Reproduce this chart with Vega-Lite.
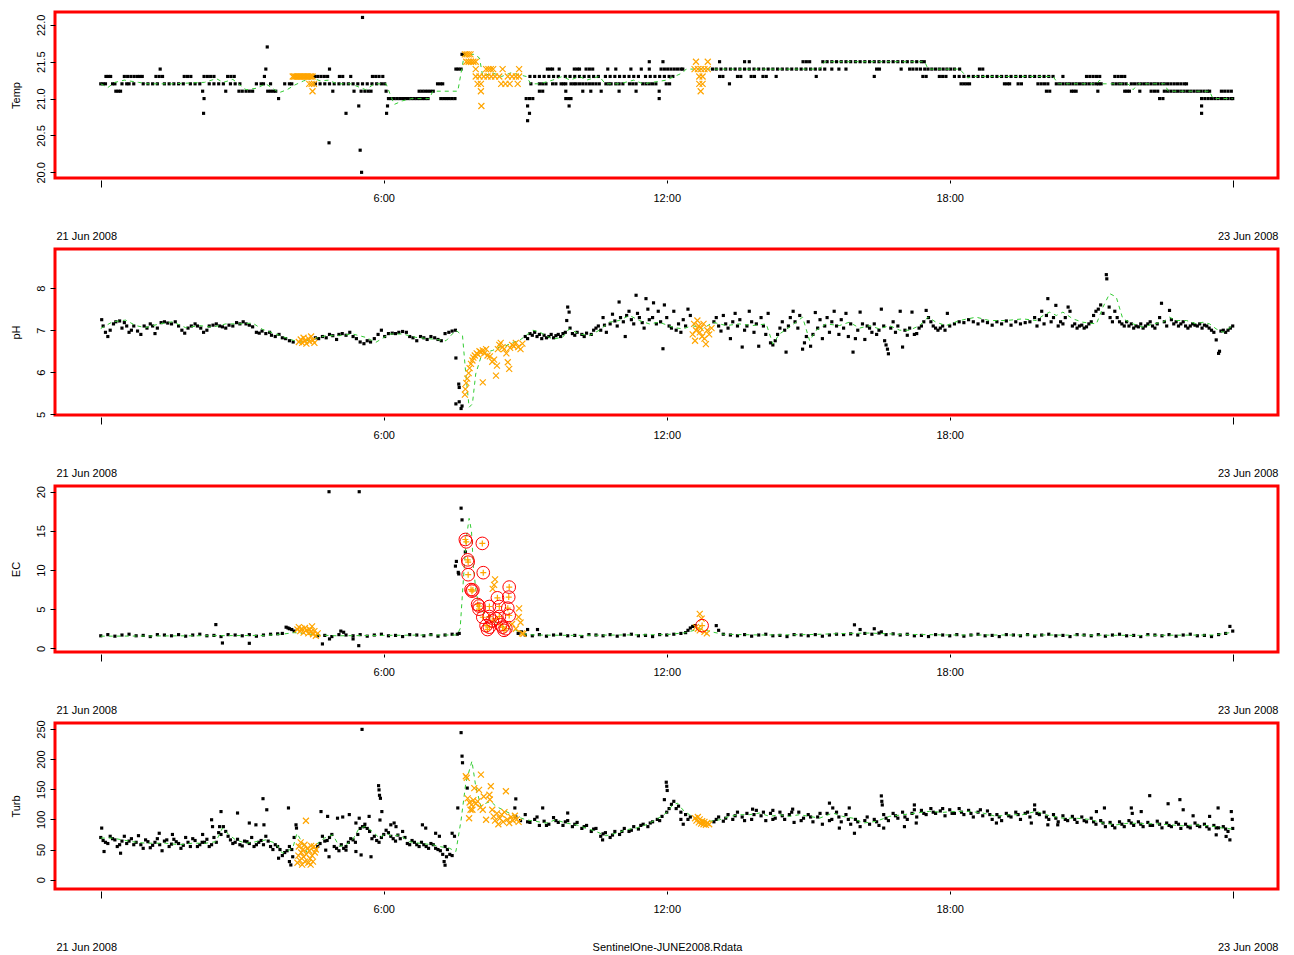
{
"$schema":"https://vega.github.io/schema/vega-lite/v6.json",
"background":"white",
"padding":{"left":8,"top":10,"right":0,"bottom":0},
"spacing":71,
"bounds":"flush",
"datasets":{
"Tp":[
{"t":0,"y":21.2},{"t":0.05,"y":21.2},{"t":0.1,"y":21.2},{"t":0.25,"y":21.2},{"t":0.3,"y":21.2},{"t":0.45,"y":21.2},{"t":0.55,"y":21.2},{"t":0.6,"y":21.2},{"t":0.7,"y":21.2},{"t":0.9,"y":21.2},{"t":1.0,"y":21.2},{"t":1.1,"y":21.2},{"t":1.2,"y":21.2},{"t":1.35,"y":21.2},{"t":1.45,"y":21.2},{"t":1.55,"y":21.2},{"t":1.65,"y":21.2},{"t":1.75,"y":21.2},{"t":1.9,"y":21.2},{"t":2.0,"y":21.2},{"t":2.1,"y":21.2},{"t":2.3,"y":21.2},{"t":2.4,"y":21.2},{"t":2.5,"y":21.2},{"t":2.6,"y":21.2},{"t":2.75,"y":21.2},{"t":2.85,"y":21.2},{"t":2.95,"y":21.2},{"t":3.3,"y":21.2},{"t":3.4,"y":21.2},{"t":3.45,"y":21.2},{"t":3.6,"y":21.2},{"t":3.9,"y":21.2},{"t":4.0,"y":21.2},{"t":4.05,"y":21.2},{"t":4.55,"y":21.2},{"t":4.65,"y":21.2},{"t":4.75,"y":21.2},{"t":4.85,"y":21.2},{"t":4.95,"y":21.2},{"t":5.05,"y":21.2},{"t":5.15,"y":21.2},{"t":5.25,"y":21.2},{"t":5.35,"y":21.2},{"t":5.45,"y":21.2},{"t":5.55,"y":21.2},{"t":5.65,"y":21.2},{"t":5.75,"y":21.2},{"t":5.85,"y":21.2},{"t":5.95,"y":21.2},{"t":6.02,"y":21.2},{"t":7.14,"y":21.2},{"t":7.2,"y":21.2},{"t":7.25,"y":21.2},
{"t":9.12,"y":21.2},{"t":9.3,"y":21.2},{"t":9.37,"y":21.2},{"t":9.44,"y":21.2},{"t":9.58,"y":21.2},{"t":9.65,"y":21.2},{"t":9.76,"y":21.2},{"t":9.81,"y":21.2},{"t":9.86,"y":21.2},{"t":9.97,"y":21.2},{"t":10.03,"y":21.2},{"t":10.08,"y":21.2},{"t":10.15,"y":21.2},{"t":10.22,"y":21.2},{"t":10.29,"y":21.2},{"t":10.36,"y":21.2},{"t":10.43,"y":21.2},{"t":10.5,"y":21.2},{"t":10.57,"y":21.2},{"t":10.71,"y":21.2},{"t":10.77,"y":21.2},{"t":10.82,"y":21.2},{"t":10.92,"y":21.2},{"t":10.99,"y":21.2},{"t":11.07,"y":21.2},{"t":11.21,"y":21.2},{"t":11.28,"y":21.2},{"t":11.35,"y":21.2},{"t":11.49,"y":21.2},{"t":11.56,"y":21.2},{"t":11.63,"y":21.2},{"t":11.7,"y":21.2},{"t":11.77,"y":21.2},{"t":11.99,"y":21.2},{"t":12.06,"y":21.2},{"t":13.33,"y":21.2},
{"t":18.24,"y":21.2},{"t":18.3,"y":21.2},{"t":18.36,"y":21.2},{"t":18.42,"y":21.2},{"t":19.16,"y":21.2},{"t":19.22,"y":21.2},{"t":19.27,"y":21.2},{"t":19.45,"y":21.2},{"t":19.52,"y":21.2},{"t":19.87,"y":21.2},{"t":19.94,"y":21.2},{"t":20.01,"y":21.2},{"t":20.08,"y":21.2},{"t":20.26,"y":21.2},{"t":20.33,"y":21.2},{"t":20.4,"y":21.2},{"t":20.47,"y":21.2},{"t":20.54,"y":21.2},{"t":20.61,"y":21.2},{"t":20.68,"y":21.2},{"t":20.75,"y":21.2},{"t":20.82,"y":21.2},{"t":20.89,"y":21.2},{"t":20.96,"y":21.2},{"t":21.04,"y":21.2},{"t":21.11,"y":21.2},{"t":21.16,"y":21.2},{"t":21.21,"y":21.2},{"t":21.46,"y":21.2},{"t":21.53,"y":21.2},{"t":21.6,"y":21.2},{"t":21.67,"y":21.2},{"t":21.74,"y":21.2},{"t":21.85,"y":21.2},{"t":21.92,"y":21.2},{"t":21.99,"y":21.2},{"t":22.06,"y":21.2},{"t":22.13,"y":21.2},{"t":22.2,"y":21.2},{"t":22.27,"y":21.2},{"t":22.34,"y":21.2},{"t":22.41,"y":21.2},{"t":22.48,"y":21.2},{"t":22.55,"y":21.2},{"t":22.62,"y":21.2},{"t":22.69,"y":21.2},{"t":22.76,"y":21.2},{"t":22.83,"y":21.2},{"t":22.9,"y":21.2},{"t":22.97,"y":21.2},{"t":23.02,"y":21.2},
{"t":0.11,"y":21.3},{"t":0.16,"y":21.3},{"t":0.21,"y":21.3},{"t":0.5,"y":21.3},{"t":0.57,"y":21.3},{"t":0.64,"y":21.3},{"t":0.71,"y":21.3},{"t":0.78,"y":21.3},{"t":0.83,"y":21.3},{"t":0.88,"y":21.3},{"t":1.17,"y":21.3},{"t":1.24,"y":21.3},{"t":1.31,"y":21.3},{"t":1.77,"y":21.3},{"t":1.84,"y":21.3},{"t":1.91,"y":21.3},{"t":2.19,"y":21.3},{"t":2.26,"y":21.3},{"t":2.33,"y":21.3},{"t":2.4,"y":21.3},{"t":2.69,"y":21.3},{"t":2.76,"y":21.3},{"t":2.83,"y":21.3},{"t":3.47,"y":21.3},{"t":4.53,"y":21.3},{"t":4.6,"y":21.3},{"t":4.67,"y":21.3},{"t":4.74,"y":21.3},{"t":4.81,"y":21.3},{"t":5.06,"y":21.3},{"t":5.13,"y":21.3},{"t":5.3,"y":21.3},{"t":5.76,"y":21.3},{"t":5.83,"y":21.3},{"t":5.9,"y":21.3},{"t":5.98,"y":21.3},
{"t":9.1,"y":21.3},{"t":9.2,"y":21.3},{"t":9.3,"y":21.3},{"t":9.4,"y":21.3},{"t":9.5,"y":21.3},{"t":9.6,"y":21.3},{"t":9.7,"y":21.3},{"t":9.85,"y":21.3},{"t":9.95,"y":21.3},{"t":10.05,"y":21.3},{"t":10.15,"y":21.3},{"t":10.25,"y":21.3},{"t":10.35,"y":21.3},{"t":10.45,"y":21.3},{"t":10.55,"y":21.3},{"t":10.7,"y":21.3},{"t":10.8,"y":21.3},{"t":10.9,"y":21.3},{"t":11.0,"y":21.3},{"t":11.1,"y":21.3},{"t":11.2,"y":21.3},{"t":11.3,"y":21.3},{"t":11.4,"y":21.3},{"t":11.55,"y":21.3},{"t":11.65,"y":21.3},{"t":11.75,"y":21.3},{"t":11.85,"y":21.3},{"t":11.95,"y":21.3},{"t":12.05,"y":21.3},{"t":12.13,"y":21.3},{"t":13.12,"y":21.3},{"t":13.19,"y":21.3},{"t":13.5,"y":21.3},{"t":13.57,"y":21.3},{"t":13.79,"y":21.3},{"t":13.86,"y":21.3},{"t":14.04,"y":21.3},{"t":14.11,"y":21.3},{"t":14.32,"y":21.3},{"t":15.17,"y":21.3},{"t":16.4,"y":21.3},{"t":17.43,"y":21.3},{"t":17.5,"y":21.3},{"t":17.78,"y":21.3},{"t":17.85,"y":21.3},{"t":17.92,"y":21.3},{"t":18.1,"y":21.3},{"t":18.2,"y":21.3},{"t":18.3,"y":21.3},{"t":18.4,"y":21.3},{"t":18.5,"y":21.3},{"t":18.6,"y":21.3},{"t":18.7,"y":21.3},{"t":18.8,"y":21.3},{"t":18.9,"y":21.3},{"t":19.0,"y":21.3},{"t":19.1,"y":21.3},{"t":19.2,"y":21.3},{"t":19.3,"y":21.3},{"t":19.4,"y":21.3},{"t":19.5,"y":21.3},{"t":19.6,"y":21.3},{"t":19.7,"y":21.3},{"t":19.8,"y":21.3},{"t":19.9,"y":21.3},{"t":20.0,"y":21.3},{"t":20.1,"y":21.3},{"t":20.19,"y":21.3},{"t":20.4,"y":21.3},{"t":20.9,"y":21.3},{"t":20.97,"y":21.3},{"t":21.04,"y":21.3},{"t":21.11,"y":21.3},{"t":21.18,"y":21.3},{"t":21.5,"y":21.3},{"t":21.57,"y":21.3},{"t":21.64,"y":21.3},{"t":21.71,"y":21.3},
{"t":0.32,"y":21.1},{"t":0.37,"y":21.1},{"t":0.42,"y":21.1},{"t":2.16,"y":21.1},{"t":2.65,"y":21.1},{"t":2.93,"y":21.1},{"t":3.0,"y":21.1},{"t":3.08,"y":21.1},{"t":3.15,"y":21.1},{"t":3.22,"y":21.1},{"t":3.54,"y":21.1},{"t":3.6,"y":21.1},{"t":3.66,"y":21.1},{"t":3.71,"y":21.1},{"t":4.92,"y":21.1},{"t":5.37,"y":21.1},{"t":5.52,"y":21.1},{"t":5.6,"y":21.1},{"t":5.67,"y":21.1},{"t":5.73,"y":21.1},{"t":6.05,"y":21.1},{"t":6.75,"y":21.1},{"t":6.81,"y":21.1},{"t":6.87,"y":21.1},{"t":6.93,"y":21.1},{"t":6.99,"y":21.1},{"t":7.05,"y":21.1},{"t":9.3,"y":21.1},{"t":9.37,"y":21.1},{"t":9.86,"y":21.1},{"t":10.22,"y":21.1},{"t":10.39,"y":21.1},{"t":10.61,"y":21.1},{"t":10.99,"y":21.1},{"t":11.35,"y":21.1},{"t":11.84,"y":21.1},{"t":20.05,"y":21.1},{"t":20.12,"y":21.1},{"t":20.58,"y":21.1},{"t":20.63,"y":21.1},{"t":20.68,"y":21.1},{"t":21.14,"y":21.1},{"t":21.71,"y":21.1},{"t":21.76,"y":21.1},{"t":21.81,"y":21.1},{"t":22.03,"y":21.1},{"t":22.27,"y":21.1},{"t":22.34,"y":21.1},{"t":22.41,"y":21.1},{"t":22.55,"y":21.1},{"t":22.62,"y":21.1},{"t":22.69,"y":21.1},{"t":22.76,"y":21.1},{"t":22.83,"y":21.1},{"t":22.9,"y":21.1},{"t":22.97,"y":21.1},{"t":23.04,"y":21.1},{"t":23.11,"y":21.1},{"t":23.18,"y":21.1},{"t":23.25,"y":21.1},{"t":23.32,"y":21.1},{"t":23.39,"y":21.1},{"t":23.46,"y":21.1},{"t":23.51,"y":21.1},{"t":23.76,"y":21.1},{"t":23.83,"y":21.1},{"t":23.9,"y":21.1},{"t":23.97,"y":21.1},
{"t":2.19,"y":21.0},{"t":3.77,"y":21.0},{"t":6.1,"y":21.0},{"t":6.16,"y":21.0},{"t":6.22,"y":21.0},{"t":6.28,"y":21.0},{"t":6.34,"y":21.0},{"t":6.4,"y":21.0},{"t":6.46,"y":21.0},{"t":6.52,"y":21.0},{"t":6.58,"y":21.0},{"t":6.64,"y":21.0},{"t":6.7,"y":21.0},{"t":6.76,"y":21.0},{"t":6.82,"y":21.0},{"t":6.88,"y":21.0},{"t":6.94,"y":21.0},{"t":7.21,"y":21.0},{"t":7.27,"y":21.0},{"t":7.33,"y":21.0},{"t":7.39,"y":21.0},{"t":7.45,"y":21.0},{"t":7.51,"y":21.0},{"t":9.02,"y":21.0},{"t":9.09,"y":21.0},{"t":9.16,"y":21.0},{"t":9.86,"y":21.0},{"t":9.92,"y":21.0},{"t":9.97,"y":21.0},{"t":11.84,"y":21.0},{"t":22.45,"y":21.0},{"t":22.52,"y":21.0},{"t":23.34,"y":21.0},{"t":23.41,"y":21.0},{"t":23.48,"y":21.0},{"t":23.55,"y":21.0},{"t":23.62,"y":21.0},{"t":23.69,"y":21.0},{"t":23.76,"y":21.0},{"t":23.83,"y":21.0},{"t":23.9,"y":21.0},{"t":23.97,"y":21.0},{"t":24.0,"y":21.0},
{"t":1.26,"y":21.4},{"t":3.5,"y":21.4},{"t":4.85,"y":21.4},{"t":7.53,"y":21.4},{"t":7.58,"y":21.4},{"t":7.64,"y":21.4},{"t":9.47,"y":21.4},{"t":9.53,"y":21.4},{"t":9.58,"y":21.4},{"t":9.72,"y":21.4},{"t":10.04,"y":21.4},{"t":10.1,"y":21.4},{"t":10.15,"y":21.4},{"t":10.29,"y":21.4},{"t":10.36,"y":21.4},{"t":10.43,"y":21.4},{"t":10.75,"y":21.4},{"t":10.92,"y":21.4},{"t":11.24,"y":21.4},{"t":11.46,"y":21.4},{"t":11.63,"y":21.4},{"t":11.88,"y":21.4},{"t":11.95,"y":21.4},{"t":12.02,"y":21.4},{"t":12.09,"y":21.4},{"t":12.16,"y":21.4},{"t":12.23,"y":21.4},{"t":12.3,"y":21.4},{"t":12.34,"y":21.4},{"t":12.97,"y":21.4},{"t":13.05,"y":21.4},{"t":13.15,"y":21.4},{"t":13.25,"y":21.4},{"t":13.35,"y":21.4},{"t":13.45,"y":21.4},{"t":13.55,"y":21.4},{"t":13.65,"y":21.4},{"t":13.75,"y":21.4},{"t":13.85,"y":21.4},{"t":13.95,"y":21.4},{"t":14.05,"y":21.4},{"t":14.15,"y":21.4},{"t":14.25,"y":21.4},{"t":14.35,"y":21.4},{"t":14.45,"y":21.4},{"t":14.55,"y":21.4},{"t":14.65,"y":21.4},{"t":14.75,"y":21.4},{"t":14.85,"y":21.4},{"t":14.95,"y":21.4},{"t":15.05,"y":21.4},{"t":15.15,"y":21.4},{"t":15.25,"y":21.4},{"t":15.35,"y":21.4},{"t":15.5,"y":21.4},{"t":15.65,"y":21.4},{"t":15.8,"y":21.4},{"t":16.45,"y":21.4},{"t":16.51,"y":21.4},{"t":16.97,"y":21.4},{"t":17.15,"y":21.4},{"t":17.22,"y":21.4},{"t":17.3,"y":21.4},{"t":17.38,"y":21.4},{"t":17.47,"y":21.4},{"t":17.54,"y":21.4},{"t":17.62,"y":21.4},{"t":17.7,"y":21.4},{"t":17.78,"y":21.4},{"t":17.86,"y":21.4},{"t":17.94,"y":21.4},{"t":18.02,"y":21.4},{"t":18.1,"y":21.4},{"t":18.21,"y":21.4},{"t":18.63,"y":21.4},{"t":18.7,"y":21.4},
{"t":11.63,"y":21.5},{"t":11.92,"y":21.5},{"t":13.12,"y":21.5},{"t":13.65,"y":21.5},{"t":13.75,"y":21.5},{"t":14.89,"y":21.5},{"t":14.96,"y":21.5},{"t":15.03,"y":21.5},{"t":15.31,"y":21.5},{"t":15.4,"y":21.5},{"t":15.5,"y":21.5},{"t":15.6,"y":21.5},{"t":15.7,"y":21.5},{"t":15.8,"y":21.5},{"t":15.9,"y":21.5},{"t":16.0,"y":21.5},{"t":16.1,"y":21.5},{"t":16.2,"y":21.5},{"t":16.3,"y":21.5},{"t":16.4,"y":21.5},{"t":16.5,"y":21.5},{"t":16.6,"y":21.5},{"t":16.7,"y":21.5},{"t":16.8,"y":21.5},{"t":16.9,"y":21.5},{"t":17.0,"y":21.5},{"t":17.1,"y":21.5},{"t":17.2,"y":21.5},{"t":17.3,"y":21.5},{"t":17.4,"y":21.5},{"t":17.46,"y":21.5},
{"t":7.66,"y":21.6},{"t":7.71,"y":21.6},{"t":3.53,"y":21.7},{"t":5.47,"y":20.9},{"t":6.08,"y":20.9},{"t":9.05,"y":20.9},{"t":9.93,"y":20.9},{"t":23.34,"y":20.9},{"t":2.18,"y":20.8},{"t":5.2,"y":20.8},{"t":6.06,"y":20.8},{"t":9.09,"y":20.8},{"t":23.34,"y":20.8},{"t":9.05,"y":20.7},{"t":4.84,"y":20.4},{"t":5.5,"y":20.3},{"t":5.53,"y":20.0},{"t":5.55,"y":22.1}
],
"Tg":[{"t":0,"y":21.2},{"t":0.15,"y":21.15},{"t":0.3,"y":21.22},{"t":0.5,"y":21.25},{"t":0.8,"y":21.22},{"t":1.0,"y":21.2},{"t":1.5,"y":21.2},{"t":2.2,"y":21.22},{"t":2.45,"y":21.27},{"t":2.6,"y":21.22},{"t":2.8,"y":21.26},{"t":3.08,"y":21.12},{"t":3.3,"y":21.14},{"t":3.5,"y":21.2},{"t":3.78,"y":21.08},{"t":3.95,"y":21.12},{"t":4.1,"y":21.18},{"t":4.3,"y":21.24},{"t":4.5,"y":21.28},{"t":4.65,"y":21.24},{"t":4.84,"y":21.25},{"t":5.0,"y":21.2},{"t":5.3,"y":21.2},{"t":5.62,"y":21.12},{"t":5.8,"y":21.2},{"t":6.05,"y":21.2},{"t":6.22,"y":20.92},{"t":6.4,"y":20.97},{"t":6.6,"y":21.0},{"t":6.97,"y":21.0},{"t":7.04,"y":21.1},{"t":7.57,"y":21.1},{"t":7.71,"y":21.6},{"t":7.92,"y":21.6},{"t":8.03,"y":21.55},{"t":8.1,"y":21.3},{"t":8.3,"y":21.35},{"t":8.5,"y":21.3},{"t":8.7,"y":21.35},{"t":9.02,"y":21.3},{"t":9.12,"y":21.2},{"t":9.3,"y":21.2},{"t":9.58,"y":21.25},{"t":9.79,"y":21.3},{"t":9.95,"y":21.25},{"t":10.15,"y":21.3},{"t":10.3,"y":21.25},{"t":10.57,"y":21.3},{"t":10.7,"y":21.2},{"t":11.0,"y":21.2},{"t":11.3,"y":21.25},{"t":11.5,"y":21.2},{"t":11.7,"y":21.22},{"t":11.99,"y":21.25},{"t":12.34,"y":21.35},{"t":12.41,"y":21.4},{"t":15.24,"y":21.4},{"t":15.35,"y":21.5},{"t":17.47,"y":21.5},{"t":17.54,"y":21.4},{"t":18.21,"y":21.4},{"t":18.38,"y":21.28},{"t":18.53,"y":21.3},{"t":20.19,"y":21.3},{"t":20.3,"y":21.2},{"t":21.11,"y":21.2},{"t":21.18,"y":21.25},{"t":21.25,"y":21.2},{"t":21.78,"y":21.2},{"t":21.89,"y":21.12},{"t":21.99,"y":21.2},{"t":22.56,"y":21.2},{"t":22.63,"y":21.1},{"t":23.51,"y":21.1},{"t":23.58,"y":21.0},{"t":24.0,"y":21.0}],
"To":[{"t":4.07,"y":21.3},{"t":4.1,"y":21.3},{"t":4.13,"y":21.3},{"t":4.16,"y":21.3},{"t":4.19,"y":21.3},{"t":4.22,"y":21.3},{"t":4.25,"y":21.3},{"t":4.28,"y":21.3},{"t":4.31,"y":21.3},{"t":4.34,"y":21.3},{"t":4.37,"y":21.3},{"t":4.4,"y":21.3},{"t":4.43,"y":21.3},{"t":4.46,"y":21.3},{"t":4.49,"y":21.3},{"t":4.42,"y":21.2},{"t":4.47,"y":21.2},{"t":4.52,"y":21.2},{"t":4.49,"y":21.1},{"t":7.72,"y":21.6},{"t":7.76,"y":21.6},{"t":7.8,"y":21.6},{"t":7.84,"y":21.6},{"t":7.75,"y":21.5},{"t":7.8,"y":21.5},{"t":7.85,"y":21.5},{"t":7.9,"y":21.5},{"t":7.95,"y":21.5},{"t":7.95,"y":21.4},{"t":8.17,"y":21.4},{"t":8.22,"y":21.4},{"t":8.27,"y":21.4},{"t":8.32,"y":21.4},{"t":8.52,"y":21.4},{"t":8.87,"y":21.4},{"t":12.59,"y":21.4},{"t":12.66,"y":21.4},{"t":12.73,"y":21.4},{"t":12.8,"y":21.4},{"t":12.87,"y":21.4},{"t":7.95,"y":21.3},{"t":8.03,"y":21.3},{"t":8.12,"y":21.3},{"t":8.2,"y":21.3},{"t":8.28,"y":21.3},{"t":8.36,"y":21.3},{"t":8.45,"y":21.3},{"t":8.63,"y":21.3},{"t":8.72,"y":21.3},{"t":8.8,"y":21.3},{"t":8.87,"y":21.3},{"t":12.69,"y":21.3},{"t":12.76,"y":21.3},{"t":7.99,"y":21.2},{"t":8.06,"y":21.2},{"t":8.49,"y":21.2},{"t":8.58,"y":21.2},{"t":8.67,"y":21.2},{"t":8.84,"y":21.2},{"t":12.69,"y":21.2},{"t":12.76,"y":21.2},{"t":8.06,"y":21.1},{"t":12.72,"y":21.1},{"t":8.07,"y":20.9},{"t":12.62,"y":21.5},{"t":12.87,"y":21.5}],
"Pp":[{"t":0.02,"y":7.25},{"t":0.05,"y":7.1},{"t":0.1,"y":6.95},{"t":0.15,"y":6.85},{"t":0.2,"y":7.0},{"t":0.27,"y":7.15},{"t":0.32,"y":7.2},{"t":0.4,"y":7.22},{"t":0.45,"y":7.05},{"t":0.5,"y":7.18},{"t":0.55,"y":7.1},{"t":0.6,"y":6.95},{"t":0.65,"y":7.0},{"t":0.7,"y":7.1},{"t":0.78,"y":6.98},{"t":0.85,"y":6.9},{"t":0.92,"y":7.1},{"t":0.98,"y":7.05},{"t":1.05,"y":7.15},{"t":1.1,"y":7.1},{"t":1.15,"y":6.92},{"t":1.2,"y":7.05},{"t":1.28,"y":7.18},{"t":1.35,"y":7.2},{"t":1.42,"y":7.17},{"t":1.5,"y":7.15},{"t":1.58,"y":7.2},{"t":1.65,"y":7.1},{"t":1.72,"y":7.0},{"t":1.78,"y":6.93},{"t":1.85,"y":7.05},{"t":1.92,"y":7.1},{"t":2.0,"y":7.15},{"t":2.05,"y":7.1},{"t":2.12,"y":7.05},{"t":2.18,"y":6.95},{"t":2.25,"y":7.0},{"t":2.3,"y":7.1},{"t":2.38,"y":7.12},{"t":2.45,"y":7.15},{"t":2.52,"y":7.1},{"t":2.58,"y":7.08},{"t":2.65,"y":7.05},{"t":2.72,"y":7.12},{"t":2.8,"y":7.1},{"t":2.88,"y":7.18},{"t":2.95,"y":7.15},{"t":3.02,"y":7.2},{"t":3.08,"y":7.15},{"t":3.15,"y":7.12},{"t":3.22,"y":7.08},{"t":3.3,"y":6.95},{"t":3.36,"y":6.93},{"t":3.42,"y":6.98},{"t":3.5,"y":6.92},{"t":3.58,"y":6.95},{"t":3.62,"y":6.88},{"t":3.7,"y":6.85},{"t":3.78,"y":6.9},{"t":3.85,"y":6.82},{"t":3.92,"y":6.8},{"t":4.0,"y":6.75},{"t":4.08,"y":6.72},{"t":4.55,"y":6.82},{"t":4.62,"y":6.8},{"t":4.7,"y":6.85},{"t":4.78,"y":6.82},{"t":4.85,"y":6.9},{"t":4.92,"y":6.87},{"t":5.0,"y":6.78},{"t":5.05,"y":6.9},{"t":5.12,"y":6.92},{"t":5.2,"y":6.88},{"t":5.28,"y":6.95},{"t":5.35,"y":6.85},{"t":5.42,"y":6.8},{"t":5.5,"y":6.72},{"t":5.58,"y":6.68},{"t":5.65,"y":6.75},{"t":5.72,"y":6.72},{"t":5.8,"y":6.8},{"t":5.88,"y":6.9},{"t":5.95,"y":7.0},{"t":6.02,"y":6.85},{"t":6.1,"y":6.92},{"t":6.18,"y":6.93},{"t":6.25,"y":6.92},{"t":6.32,"y":6.95},{"t":6.4,"y":6.97},{"t":6.48,"y":6.95},{"t":6.55,"y":6.85},{"t":6.62,"y":6.82},{"t":6.7,"y":6.75},{"t":6.78,"y":6.85},{"t":6.85,"y":6.82},{"t":6.92,"y":6.78},{"t":7.0,"y":6.85},{"t":7.08,"y":6.82},{"t":7.15,"y":6.78},{"t":7.22,"y":6.75},{"t":7.3,"y":6.92},{"t":7.38,"y":6.95},{"t":7.45,"y":6.98},{"t":7.52,"y":7.0},
{"t":7.53,"y":6.34},{"t":7.59,"y":5.72},{"t":7.6,"y":5.64},{"t":7.53,"y":5.25},{"t":7.6,"y":5.3},{"t":7.64,"y":5.14},{"t":7.66,"y":5.2},
{"t":9.0,"y":6.85},{"t":9.05,"y":6.8},{"t":9.1,"y":6.92},{"t":9.15,"y":6.88},{"t":9.2,"y":6.95},{"t":9.25,"y":6.85},{"t":9.3,"y":6.9},{"t":9.35,"y":6.8},{"t":9.4,"y":6.88},{"t":9.45,"y":6.82},{"t":9.5,"y":6.85},{"t":9.55,"y":6.9},{"t":9.6,"y":6.82},{"t":9.65,"y":6.87},{"t":9.7,"y":6.9},{"t":9.75,"y":6.85},{"t":9.8,"y":6.92},{"t":9.85,"y":6.95},{"t":9.88,"y":7.23},{"t":9.9,"y":7.55},{"t":9.93,"y":7.43},{"t":9.95,"y":7.05},{"t":10.0,"y":6.92},{"t":10.05,"y":6.88},{"t":10.1,"y":6.95},{"t":10.2,"y":6.9},{"t":10.25,"y":6.85},{"t":10.3,"y":6.93},{"t":10.4,"y":6.9},{"t":10.45,"y":7.0},{"t":10.5,"y":7.05},{"t":10.55,"y":7.1},{"t":10.6,"y":7.0},{"t":10.65,"y":7.3},{"t":10.68,"y":7.12},{"t":10.72,"y":6.95},{"t":10.8,"y":7.15},{"t":10.85,"y":7.38},{"t":10.9,"y":7.22},{"t":10.95,"y":7.1},{"t":10.99,"y":7.67},{"t":11.02,"y":7.3},{"t":11.08,"y":7.2},{"t":11.12,"y":6.85},{"t":11.15,"y":7.35},{"t":11.2,"y":7.45},{"t":11.25,"y":7.25},{"t":11.3,"y":7.15},{"t":11.35,"y":7.83},{"t":11.38,"y":7.4},{"t":11.42,"y":7.3},{"t":11.48,"y":7.18},{"t":11.52,"y":7.05},{"t":11.56,"y":7.75},{"t":11.6,"y":7.5},{"t":11.63,"y":7.25},{"t":11.7,"y":7.3},{"t":11.72,"y":7.65},{"t":11.78,"y":7.15},{"t":11.82,"y":7.45},{"t":11.87,"y":7.2},{"t":11.92,"y":6.56},{"t":11.95,"y":7.6},{"t":12.0,"y":7.3},{"t":12.05,"y":7.1},{"t":12.1,"y":7.05},{"t":12.15,"y":7.45},{"t":12.2,"y":7.0},{"t":12.25,"y":7.15},{"t":12.3,"y":6.95},{"t":12.35,"y":7.25},{"t":12.4,"y":7.1},{"t":12.45,"y":7.5},{"t":12.5,"y":7.35},{"t":13.0,"y":7.2},{"t":13.05,"y":7.3},{"t":13.1,"y":7.1},{"t":13.15,"y":6.98},{"t":13.2,"y":7.35},{"t":13.25,"y":7.15},{"t":13.3,"y":7.05},{"t":13.35,"y":6.8},{"t":13.4,"y":7.2},{"t":13.45,"y":7.4},{"t":13.5,"y":7.1},{"t":13.55,"y":7.25},{"t":13.6,"y":6.6},{"t":13.65,"y":7.0},{"t":13.7,"y":7.1},{"t":13.75,"y":7.45},{"t":13.8,"y":7.2},{"t":13.85,"y":6.95},{"t":13.9,"y":7.15},{"t":13.95,"y":6.62},{"t":14.0,"y":7.3},{"t":14.05,"y":7.1},{"t":14.1,"y":6.9},{"t":14.15,"y":7.4},{"t":14.2,"y":6.7},{"t":14.25,"y":6.65},{"t":14.3,"y":6.75},{"t":14.35,"y":6.9},{"t":14.4,"y":7.05},{"t":14.45,"y":7.2},{"t":14.5,"y":7.0},{"t":14.53,"y":6.48},{"t":14.58,"y":7.1},{"t":14.62,"y":7.3},{"t":14.68,"y":7.45},{"t":14.72,"y":7.2},{"t":14.78,"y":7.05},{"t":14.82,"y":7.35},{"t":14.88,"y":6.55},{"t":14.92,"y":6.7},{"t":14.96,"y":6.85},{"t":15.0,"y":7.2},{"t":15.05,"y":6.62},{"t":15.1,"y":6.9},{"t":15.15,"y":7.42},{"t":15.2,"y":7.05},{"t":15.25,"y":7.25},{"t":15.3,"y":6.8},{"t":15.35,"y":7.1},{"t":15.4,"y":7.3},{"t":15.45,"y":6.95},{"t":15.5,"y":7.2},{"t":15.55,"y":7.45},{"t":15.6,"y":7.1},{"t":15.65,"y":6.9},{"t":15.7,"y":7.25},{"t":15.75,"y":7.05},{"t":15.8,"y":7.4},{"t":15.85,"y":6.85},{"t":15.9,"y":7.15},{"t":15.95,"y":6.48},{"t":16.0,"y":6.8},{"t":16.05,"y":7.0},{"t":16.1,"y":7.43},{"t":16.15,"y":7.15},{"t":16.2,"y":6.78},
{"t":16.25,"y":7.1},{"t":16.3,"y":7.05},{"t":16.35,"y":6.95},{"t":16.4,"y":7.15},{"t":16.45,"y":6.9},{"t":16.5,"y":7.0},{"t":16.55,"y":7.5},{"t":16.6,"y":7.1},{"t":16.62,"y":6.75},{"t":16.65,"y":6.65},{"t":16.68,"y":6.55},{"t":16.7,"y":6.44},{"t":16.75,"y":7.05},{"t":16.8,"y":7.2},{"t":16.85,"y":6.95},{"t":16.9,"y":7.1},{"t":16.95,"y":7.45},{"t":17.0,"y":6.6},{"t":17.05,"y":7.0},{"t":17.1,"y":6.88},{"t":17.15,"y":7.05},{"t":17.2,"y":7.43},{"t":17.25,"y":6.9},{"t":17.3,"y":6.92},{"t":17.35,"y":7.05},{"t":17.4,"y":7.1},{"t":17.45,"y":7.2},{"t":17.5,"y":7.47},{"t":17.55,"y":7.3},{"t":17.6,"y":7.2},{"t":17.65,"y":7.1},{"t":17.7,"y":7.05},{"t":17.75,"y":7.0},{"t":17.8,"y":7.05},{"t":17.85,"y":7.1},{"t":17.9,"y":7.0},{"t":17.95,"y":7.4},{"t":18.0,"y":7.1},{"t":18.1,"y":7.15},{"t":18.2,"y":7.2},{"t":18.3,"y":7.18},{"t":18.4,"y":7.25},{"t":18.5,"y":7.2},{"t":18.6,"y":7.15},{"t":18.7,"y":7.22},{"t":18.8,"y":7.18},{"t":18.9,"y":7.12},{"t":19.0,"y":7.2},{"t":19.1,"y":7.15},{"t":19.2,"y":7.22},{"t":19.3,"y":7.12},{"t":19.4,"y":7.2},{"t":19.5,"y":7.15},{"t":19.6,"y":7.18},{"t":19.7,"y":7.2},{"t":19.8,"y":7.3},{"t":19.85,"y":7.1},{"t":19.9,"y":7.25},{"t":19.95,"y":7.45},{"t":20.0,"y":7.15},{"t":20.05,"y":7.35},{"t":20.08,"y":7.75},{"t":20.15,"y":7.2},{"t":20.2,"y":7.3},{"t":20.25,"y":7.59},{"t":20.3,"y":7.1},{"t":20.35,"y":7.2},{"t":20.4,"y":7.15},{"t":20.45,"y":7.3},{"t":20.51,"y":7.55},{"t":20.55,"y":7.45},{"t":20.6,"y":7.1},{"t":20.65,"y":7.15},{"t":20.7,"y":7.05},{"t":20.75,"y":7.1},{"t":20.8,"y":7.12},{"t":20.85,"y":7.05},{"t":20.9,"y":7.08},{"t":20.95,"y":7.15},{"t":21.0,"y":7.2},{"t":21.05,"y":7.35},{"t":21.1,"y":7.45},{"t":21.15,"y":7.5},{"t":21.2,"y":7.6},{"t":21.25,"y":7.4},{"t":21.32,"y":8.32},{"t":21.33,"y":8.22},{"t":21.38,"y":7.55},{"t":21.4,"y":7.3},{"t":21.45,"y":7.2},{"t":21.5,"y":7.45},{"t":21.55,"y":7.3},{"t":21.6,"y":7.2},{"t":21.65,"y":7.15},{"t":21.7,"y":7.1},{"t":21.75,"y":7.2},{"t":21.8,"y":7.1},{"t":21.85,"y":7.15},{"t":21.9,"y":7.05},{"t":21.95,"y":7.1},{"t":22.0,"y":7.08},{"t":22.05,"y":7.15},{"t":22.1,"y":7.05},{"t":22.15,"y":7.1},{"t":22.2,"y":7.15},{"t":22.25,"y":7.2},{"t":22.3,"y":7.1},{"t":22.35,"y":7.05},{"t":22.4,"y":7.15},{"t":22.45,"y":7.3},{"t":22.49,"y":7.64},{"t":22.55,"y":7.2},{"t":22.6,"y":7.1},{"t":22.66,"y":7.47},{"t":22.7,"y":7.25},{"t":22.75,"y":7.15},{"t":22.8,"y":7.2},{"t":22.85,"y":7.1},{"t":22.9,"y":7.15},{"t":22.95,"y":7.2},{"t":23.0,"y":7.1},{"t":23.05,"y":7.05},{"t":23.1,"y":7.1},{"t":23.15,"y":7.15},{"t":23.2,"y":7.12},{"t":23.25,"y":7.1},{"t":23.3,"y":7.15},{"t":23.35,"y":7.05},{"t":23.4,"y":7.12},{"t":23.45,"y":7.1},{"t":23.5,"y":7.05},{"t":23.55,"y":7.0},{"t":23.6,"y":6.95},{"t":23.65,"y":6.77},{"t":23.7,"y":6.45},{"t":23.72,"y":6.5},{"t":23.75,"y":6.98},{"t":23.8,"y":7.0},{"t":23.85,"y":6.95},{"t":23.9,"y":7.0},{"t":23.95,"y":7.05},{"t":24.0,"y":7.1}],
"Pg":[{"t":0,"y":7.04},{"t":0.25,"y":7.2},{"t":0.53,"y":7.24},{"t":0.74,"y":7.11},{"t":0.95,"y":7.06},{"t":1.24,"y":7.15},{"t":1.52,"y":7.2},{"t":1.8,"y":7.06},{"t":2.09,"y":7.11},{"t":2.37,"y":7.07},{"t":2.65,"y":7.15},{"t":2.93,"y":7.15},{"t":3.22,"y":7.17},{"t":3.43,"y":7.02},{"t":3.71,"y":6.91},{"t":4.0,"y":6.79},{"t":4.21,"y":6.71},{"t":4.49,"y":6.79},{"t":4.77,"y":6.87},{"t":5.06,"y":6.87},{"t":5.34,"y":6.91},{"t":5.62,"y":6.83},{"t":5.83,"y":6.71},{"t":6.12,"y":6.91},{"t":6.4,"y":6.91},{"t":6.68,"y":6.83},{"t":7.04,"y":6.79},{"t":7.32,"y":6.75},{"t":7.53,"y":7.0},{"t":7.67,"y":6.87},{"t":7.74,"y":5.96},{"t":7.81,"y":5.17},{"t":7.88,"y":5.25},{"t":7.95,"y":5.96},{"t":8.06,"y":6.36},{"t":8.17,"y":6.48},{"t":8.31,"y":6.52},{"t":8.45,"y":6.6},{"t":8.59,"y":6.63},{"t":8.73,"y":6.71},{"t":8.87,"y":6.75},{"t":9.01,"y":6.87},{"t":9.16,"y":7.0},{"t":9.3,"y":6.96},{"t":9.44,"y":6.87},{"t":9.58,"y":6.79},{"t":9.79,"y":6.83},{"t":9.93,"y":7.03},{"t":10.15,"y":6.91},{"t":10.36,"y":6.87},{"t":10.57,"y":7.0},{"t":10.78,"y":7.19},{"t":10.99,"y":7.23},{"t":11.21,"y":7.35},{"t":11.42,"y":7.23},{"t":11.63,"y":7.15},{"t":11.84,"y":7.19},{"t":12.13,"y":7.07},{"t":12.34,"y":7.03},{"t":12.55,"y":7.11},{"t":12.76,"y":7.03},{"t":12.98,"y":7.19},{"t":13.26,"y":7.11},{"t":13.54,"y":7.15},{"t":13.82,"y":7.11},{"t":14.11,"y":7.15},{"t":14.25,"y":6.67},{"t":14.39,"y":6.91},{"t":14.6,"y":7.07},{"t":14.88,"y":7.31},{"t":15.03,"y":6.75},{"t":15.17,"y":7.0},{"t":15.38,"y":7.15},{"t":15.66,"y":7.11},{"t":15.87,"y":7.19},{"t":16.09,"y":7.05},{"t":16.3,"y":7.11},{"t":16.51,"y":7.03},{"t":16.72,"y":7.11},{"t":16.94,"y":7.0},{"t":17.15,"y":7.0},{"t":17.36,"y":7.11},{"t":17.54,"y":7.31},{"t":17.71,"y":7.19},{"t":17.92,"y":7.11},{"t":18.21,"y":7.23},{"t":18.56,"y":7.31},{"t":18.84,"y":7.23},{"t":19.2,"y":7.23},{"t":19.55,"y":7.27},{"t":19.83,"y":7.23},{"t":19.98,"y":7.35},{"t":20.12,"y":7.43},{"t":20.26,"y":7.35},{"t":20.4,"y":7.43},{"t":20.61,"y":7.27},{"t":20.82,"y":7.19},{"t":21.11,"y":7.15},{"t":21.25,"y":7.55},{"t":21.39,"y":7.87},{"t":21.53,"y":7.79},{"t":21.67,"y":7.27},{"t":21.89,"y":7.15},{"t":22.1,"y":7.07},{"t":22.31,"y":7.15},{"t":22.52,"y":7.19},{"t":22.66,"y":7.31},{"t":22.8,"y":7.23},{"t":23.02,"y":7.23},{"t":23.23,"y":7.15},{"t":23.37,"y":7.19},{"t":23.51,"y":7.15},{"t":23.65,"y":7.03},{"t":23.8,"y":6.95},{"t":24.0,"y":7.11}],
"Po":[{"t":4.2,"y":6.72},{"t":4.24,"y":6.78},{"t":4.27,"y":6.7},{"t":4.3,"y":6.82},{"t":4.33,"y":6.75},{"t":4.36,"y":6.68},{"t":4.4,"y":6.8},{"t":4.43,"y":6.73},{"t":4.46,"y":6.85},{"t":4.5,"y":6.76},{"t":4.53,"y":6.7},{"t":7.72,"y":5.47},{"t":7.73,"y":5.6},{"t":7.75,"y":5.75},{"t":7.77,"y":5.85},{"t":7.8,"y":5.98},{"t":7.82,"y":6.1},{"t":7.85,"y":6.2},{"t":7.88,"y":6.28},{"t":7.9,"y":6.35},{"t":7.93,"y":6.4},{"t":7.97,"y":6.45},{"t":8.0,"y":6.42},{"t":8.03,"y":6.5},{"t":8.06,"y":6.48},{"t":8.1,"y":6.52},{"t":8.1,"y":5.76},{"t":8.13,"y":6.45},{"t":8.17,"y":6.55},{"t":8.2,"y":6.4},{"t":8.25,"y":6.38},{"t":8.3,"y":6.25},{"t":8.34,"y":6.3},{"t":8.38,"y":5.92},{"t":8.4,"y":6.16},{"t":8.42,"y":6.55},{"t":8.45,"y":6.65},{"t":8.48,"y":6.7},{"t":8.52,"y":6.6},{"t":8.55,"y":6.55},{"t":8.6,"y":6.45},{"t":8.63,"y":6.24},{"t":8.66,"y":6.08},{"t":8.68,"y":6.58},{"t":8.72,"y":6.65},{"t":8.76,"y":6.62},{"t":8.8,"y":6.7},{"t":8.85,"y":6.6},{"t":8.9,"y":6.55},{"t":8.94,"y":6.68},{"t":12.55,"y":6.9},{"t":12.58,"y":7.15},{"t":12.6,"y":6.75},{"t":12.62,"y":7.0},{"t":12.65,"y":7.23},{"t":12.68,"y":7.1},{"t":12.7,"y":6.95},{"t":12.72,"y":7.05},{"t":12.75,"y":6.85},{"t":12.78,"y":7.15},{"t":12.8,"y":6.8},{"t":12.83,"y":6.67},{"t":12.86,"y":7.0},{"t":12.9,"y":6.9},{"t":12.95,"y":7.05}],
"Ep":[{"t":0,"y":1.6},{"t":0.15,"y":1.75},{"t":0.3,"y":1.55},{"t":0.45,"y":1.7},{"t":0.6,"y":1.8},{"t":0.75,"y":1.6},{"t":0.9,"y":1.65},{"t":1.05,"y":1.5},{"t":1.2,"y":1.75},{"t":1.35,"y":1.7},{"t":1.5,"y":1.6},{"t":1.65,"y":1.75},{"t":1.8,"y":1.55},{"t":1.95,"y":1.7},{"t":2.1,"y":1.8},{"t":2.25,"y":1.6},{"t":2.4,"y":1.65},{"t":2.55,"y":1.5},{"t":2.7,"y":1.75},{"t":2.85,"y":1.7},{"t":3.0,"y":1.6},{"t":3.15,"y":1.75},{"t":3.3,"y":1.55},{"t":3.45,"y":1.7},{"t":3.6,"y":1.8},{"t":4.6,"y":1.6},{"t":4.75,"y":1.65},{"t":4.9,"y":1.5},{"t":5.05,"y":1.75},{"t":5.2,"y":1.7},{"t":5.35,"y":1.6},{"t":5.5,"y":1.75},{"t":5.65,"y":1.55},{"t":5.8,"y":1.7},{"t":5.95,"y":1.8},{"t":6.1,"y":1.6},{"t":6.25,"y":1.65},{"t":6.4,"y":1.5},{"t":6.55,"y":1.75},{"t":6.7,"y":1.7},{"t":6.85,"y":1.6},{"t":7.0,"y":1.75},{"t":7.15,"y":1.55},{"t":7.3,"y":1.7},{"t":7.45,"y":1.8},{"t":9.0,"y":1.7},{"t":9.15,"y":1.6},{"t":9.3,"y":1.75},{"t":9.45,"y":1.55},{"t":9.6,"y":1.7},{"t":9.75,"y":1.8},{"t":9.9,"y":1.6},{"t":10.05,"y":1.65},{"t":10.2,"y":1.5},{"t":10.35,"y":1.75},{"t":10.5,"y":1.7},{"t":10.65,"y":1.6},{"t":10.8,"y":1.75},{"t":10.95,"y":1.55},{"t":11.1,"y":1.7},{"t":11.25,"y":1.8},{"t":11.4,"y":1.6},{"t":11.55,"y":1.65},{"t":11.7,"y":1.5},{"t":11.85,"y":1.75},{"t":12.0,"y":1.7},{"t":12.15,"y":1.8},{"t":12.3,"y":1.9},{"t":13.2,"y":1.8},{"t":13.35,"y":1.7},{"t":13.5,"y":1.6},{"t":13.65,"y":1.75},{"t":13.8,"y":1.55},{"t":13.95,"y":1.7},{"t":14.1,"y":1.8},{"t":14.25,"y":1.6},{"t":14.4,"y":1.65},{"t":14.55,"y":1.5},{"t":14.7,"y":1.75},{"t":14.85,"y":1.7},{"t":15.0,"y":1.6},{"t":15.15,"y":1.75},{"t":15.3,"y":1.55},{"t":15.45,"y":1.7},{"t":15.6,"y":1.8},{"t":15.75,"y":1.75},{"t":15.9,"y":1.85},{"t":16.05,"y":1.7},{"t":16.2,"y":1.9},{"t":16.35,"y":1.8},{"t":16.5,"y":1.95},{"t":16.65,"y":1.75},{"t":16.8,"y":1.85},{"t":16.95,"y":1.7},{"t":17.1,"y":1.8},{"t":17.25,"y":1.6},{"t":17.4,"y":1.65},{"t":17.55,"y":1.5},{"t":17.7,"y":1.75},{"t":17.85,"y":1.7},{"t":18.0,"y":1.6},{"t":18.15,"y":1.75},{"t":18.3,"y":1.55},{"t":18.45,"y":1.7},{"t":18.6,"y":1.8},{"t":18.75,"y":1.6},{"t":18.9,"y":1.65},{"t":19.05,"y":1.5},{"t":19.2,"y":1.75},{"t":19.35,"y":1.7},{"t":19.5,"y":1.6},{"t":19.65,"y":1.75},{"t":19.8,"y":1.55},{"t":19.95,"y":1.7},{"t":20.1,"y":1.8},{"t":20.25,"y":1.6},{"t":20.4,"y":1.65},{"t":20.55,"y":1.5},{"t":20.7,"y":1.75},{"t":20.85,"y":1.7},{"t":21.0,"y":1.6},{"t":21.15,"y":1.75},{"t":21.3,"y":1.55},{"t":21.45,"y":1.7},{"t":21.6,"y":1.8},{"t":21.75,"y":1.6},{"t":21.9,"y":1.65},{"t":22.05,"y":1.5},{"t":22.2,"y":1.75},{"t":22.35,"y":1.7},{"t":22.5,"y":1.6},{"t":22.65,"y":1.75},{"t":22.8,"y":1.55},{"t":22.95,"y":1.7},{"t":23.1,"y":1.8},{"t":23.25,"y":1.6},{"t":23.4,"y":1.65},{"t":23.55,"y":1.5},{"t":23.7,"y":1.75},{"t":23.85,"y":1.9},{"t":24.0,"y":2.2},
{"t":3.75,"y":1.85},{"t":3.85,"y":1.9},{"t":3.93,"y":2.7},{"t":3.97,"y":2.6},{"t":4.0,"y":2.5},{"t":4.05,"y":2.4},{"t":4.1,"y":2.2},{"t":2.44,"y":3.03},{"t":2.58,"y":0.68},{"t":3.15,"y":0.64},{"t":4.7,"y":0.56},{"t":4.84,"y":20.0},{"t":5.48,"y":20.0},{"t":5.47,"y":0.34},{"t":4.85,"y":1.2},{"t":5.09,"y":2.2},{"t":5.35,"y":1.2},{"t":5.15,"y":2.05},{"t":7.52,"y":10.5},{"t":7.54,"y":11.1},{"t":7.58,"y":9.7},{"t":7.59,"y":9.5},{"t":7.64,"y":17.9},{"t":7.66,"y":16.4},{"t":7.73,"y":12.3},{"t":7.56,"y":1.8},{"t":7.6,"y":1.9},{"t":8.85,"y":1.9},{"t":8.92,"y":2.1},{"t":9.05,"y":2.4},{"t":9.26,"y":2.4},{"t":12.4,"y":2.0},{"t":12.45,"y":2.3},{"t":12.5,"y":2.6},{"t":12.55,"y":2.8},{"t":12.6,"y":2.9},{"t":13.05,"y":2.9},{"t":13.1,"y":2.3},{"t":15.98,"y":3.0},{"t":16.1,"y":2.4},{"t":16.4,"y":2.5},{"t":16.55,"y":2.1},{"t":23.94,"y":2.8}],
"Eg":[{"t":0,"y":1.55},{"t":2,"y":1.6},{"t":3.5,"y":1.65},{"t":3.9,"y":1.85},{"t":4.1,"y":2.0},{"t":4.3,"y":1.9},{"t":4.6,"y":1.7},{"t":5.0,"y":1.6},{"t":6,"y":1.65},{"t":7,"y":1.7},{"t":7.55,"y":1.7},{"t":7.62,"y":2.5},{"t":7.68,"y":8},{"t":7.75,"y":14},{"t":7.81,"y":16.6},{"t":7.86,"y":15},{"t":7.9,"y":10.5},{"t":7.96,"y":7},{"t":8.05,"y":5},{"t":8.2,"y":4},{"t":8.4,"y":3.2},{"t":8.6,"y":2.6},{"t":8.85,"y":2.2},{"t":9.0,"y":1.8},{"t":9.2,"y":1.7},{"t":10,"y":1.65},{"t":11,"y":1.7},{"t":12,"y":1.75},{"t":12.4,"y":2.0},{"t":12.7,"y":2.5},{"t":12.95,"y":2.1},{"t":13.2,"y":1.8},{"t":14,"y":1.7},{"t":15,"y":1.75},{"t":15.8,"y":1.9},{"t":16.3,"y":1.95},{"t":16.9,"y":1.8},{"t":18,"y":1.7},{"t":20,"y":1.7},{"t":22,"y":1.65},{"t":23.6,"y":1.7},{"t":24,"y":2.05}],
"Eo":[{"t":4.17,"y":2.4},{"t":4.2,"y":2.7},{"t":4.23,"y":2.2},{"t":4.26,"y":2.5},{"t":4.3,"y":2.0},{"t":4.33,"y":2.6},{"t":4.36,"y":2.3},{"t":4.4,"y":1.9},{"t":4.43,"y":2.4},{"t":4.46,"y":2.1},{"t":4.5,"y":1.8},{"t":4.53,"y":2.2},{"t":4.56,"y":1.6},{"t":4.6,"y":1.9},{"t":4.48,"y":2.8},{"t":8.36,"y":8.8},{"t":8.34,"y":8.1},{"t":8.31,"y":7.6},{"t":8.87,"y":5.1},{"t":8.86,"y":4.0},{"t":8.9,"y":3.3},{"t":8.72,"y":3.1},{"t":8.8,"y":2.5},{"t":8.93,"y":1.9},{"t":8.96,"y":1.84},{"t":12.7,"y":4.4},{"t":12.74,"y":3.8},{"t":12.62,"y":2.7},{"t":12.66,"y":2.5},{"t":12.8,"y":2.1},{"t":12.85,"y":1.9},{"t":12.7,"y":2.3}],
"Ec":[{"t":7.73,"y":13.9},{"t":7.75,"y":13.6},{"t":8.09,"y":13.4},{"t":7.78,"y":11.3},{"t":7.79,"y":11.0},{"t":7.79,"y":9.4},{"t":8.11,"y":9.66},{"t":7.85,"y":7.5},{"t":7.87,"y":7.3},{"t":7.89,"y":7.45},{"t":7.99,"y":5.6},{"t":8.02,"y":5.4},{"t":8.02,"y":5.0},{"t":8.66,"y":7.82},{"t":8.65,"y":6.54},{"t":8.41,"y":6.45},{"t":8.24,"y":5.34},{"t":8.45,"y":5.34},{"t":8.63,"y":5.13},{"t":8.1,"y":3.97},{"t":8.24,"y":4.06},{"t":8.45,"y":4.06},{"t":8.66,"y":4.19},{"t":8.17,"y":2.9},{"t":8.24,"y":2.7},{"t":8.48,"y":3.0},{"t":8.52,"y":2.7},{"t":8.59,"y":2.5},{"t":8.55,"y":2.3},{"t":8.2,"y":2.4},{"t":8.3,"y":3.5},{"t":8.38,"y":3.8},{"t":12.75,"y":2.9}],
"Up":[{"t":0.0,"y":70},{"t":0.1,"y":62},{"t":0.2,"y":72},{"t":0.3,"y":66},{"t":0.4,"y":58},{"t":0.5,"y":72},{"t":0.6,"y":64},{"t":0.7,"y":58},{"t":0.8,"y":73},{"t":0.9,"y":52},{"t":1.0,"y":63},{"t":1.1,"y":57},{"t":1.2,"y":68},{"t":1.3,"y":48},{"t":1.4,"y":66},{"t":1.5,"y":59},{"t":1.6,"y":63},{"t":1.7,"y":52},{"t":1.8,"y":70},{"t":1.9,"y":55},{"t":2.0,"y":65},{"t":2.1,"y":58},{"t":2.2,"y":62},{"t":2.3,"y":55},{"t":2.4,"y":70},{"t":2.5,"y":78},{"t":2.6,"y":88},{"t":2.7,"y":72},{"t":2.8,"y":60},{"t":2.9,"y":67},{"t":3.0,"y":56},{"t":3.1,"y":63},{"t":3.2,"y":70},{"t":3.3,"y":58},{"t":3.4,"y":65},{"t":3.5,"y":72},{"t":3.6,"y":55},{"t":3.7,"y":58},{"t":3.8,"y":50},{"t":3.9,"y":45},{"t":4.0,"y":55},{"t":4.1,"y":70},{"t":4.6,"y":55},{"t":4.7,"y":72},{"t":4.8,"y":65},{"t":4.9,"y":75},{"t":5.0,"y":52},{"t":5.1,"y":58},{"t":5.2,"y":55},{"t":5.3,"y":68},{"t":5.4,"y":62},{"t":5.5,"y":85},{"t":5.6,"y":92},{"t":5.7,"y":80},{"t":5.8,"y":72},{"t":5.9,"y":62},{"t":6.0,"y":75},{"t":6.1,"y":78},{"t":6.2,"y":68},{"t":6.3,"y":74},{"t":6.4,"y":80},{"t":6.5,"y":60},{"t":6.6,"y":65},{"t":6.7,"y":58},{"t":6.8,"y":62},{"t":6.9,"y":55},{"t":7.0,"y":60},{"t":7.1,"y":52},{"t":7.2,"y":48},{"t":7.3,"y":55},{"t":7.4,"y":42},
{"t":0.05,"y":65},{"t":0.15,"y":60},{"t":0.25,"y":68},{"t":0.35,"y":55},{"t":0.45,"y":64},{"t":0.55,"y":60},{"t":0.65,"y":68},{"t":0.75,"y":62},{"t":0.85,"y":58},{"t":0.95,"y":66},{"t":1.05,"y":53},{"t":1.15,"y":62},{"t":1.25,"y":58},{"t":1.35,"y":64},{"t":1.45,"y":55},{"t":1.55,"y":67},{"t":1.65,"y":60},{"t":1.75,"y":57},{"t":1.85,"y":62},{"t":1.95,"y":68},{"t":2.05,"y":55},{"t":2.15,"y":62},{"t":2.25,"y":67},{"t":2.35,"y":58},{"t":2.45,"y":62},{"t":2.55,"y":75},{"t":2.65,"y":80},{"t":2.75,"y":66},{"t":2.85,"y":62},{"t":2.95,"y":58},{"t":3.05,"y":64},{"t":3.15,"y":60},{"t":3.25,"y":55},{"t":3.35,"y":62},{"t":3.45,"y":58},{"t":3.55,"y":64},{"t":3.65,"y":50},{"t":3.75,"y":55},{"t":3.85,"y":40},{"t":3.95,"y":48},{"t":4.05,"y":50},{"t":4.65,"y":60},{"t":4.75,"y":64},{"t":4.85,"y":70},{"t":4.95,"y":55},{"t":5.05,"y":48},{"t":5.15,"y":52},{"t":5.25,"y":62},{"t":5.35,"y":66},{"t":5.45,"y":75},{"t":5.55,"y":88},{"t":5.65,"y":85},{"t":5.75,"y":68},{"t":5.85,"y":65},{"t":5.95,"y":70},{"t":6.05,"y":82},{"t":6.15,"y":72},{"t":6.25,"y":64},{"t":6.35,"y":68},{"t":6.45,"y":70},{"t":6.55,"y":58},{"t":6.65,"y":62},{"t":6.75,"y":55},{"t":6.85,"y":58},{"t":6.95,"y":52},{"t":7.05,"y":58},{"t":7.15,"y":50},{"t":7.25,"y":42},{"t":7.35,"y":50},{"t":7.45,"y":40},
{"t":0.02,"y":85.6},{"t":0.07,"y":46.7},{"t":0.42,"y":43.9},{"t":1.24,"y":77},{"t":1.52,"y":75},{"t":2.16,"y":75},{"t":2.35,"y":99.4},{"t":2.37,"y":88},{"t":2.55,"y":113},{"t":2.52,"y":88},{"t":2.9,"y":110.6},{"t":3.15,"y":94},{"t":3.29,"y":91},{"t":3.44,"y":134.4},{"t":3.46,"y":91},{"t":3.52,"y":116},{"t":3.77,"y":35.6},{"t":3.98,"y":119},{"t":4.14,"y":91},{"t":4.15,"y":85.6},{"t":4.03,"y":24.4},{"t":4.0,"y":30},{"t":4.07,"y":38},{"t":4.67,"y":113},{"t":4.81,"y":105},{"t":5.02,"y":102},{"t":5.13,"y":104},{"t":5.27,"y":108},{"t":5.41,"y":94},{"t":5.48,"y":102},{"t":5.54,"y":249.4},{"t":5.59,"y":88},{"t":5.69,"y":105},{"t":5.89,"y":156},{"t":5.9,"y":149},{"t":5.91,"y":140},{"t":5.93,"y":135},{"t":5.92,"y":99},{"t":5.96,"y":113},{"t":6.15,"y":91},{"t":6.22,"y":94},{"t":4.77,"y":49},{"t":4.84,"y":38},{"t":5.2,"y":49},{"t":5.41,"y":46.7},{"t":5.52,"y":41},{"t":5.73,"y":38},{"t":6.26,"y":88},{"t":6.82,"y":91},{"t":6.89,"y":85.6},{"t":7.1,"y":77},{"t":7.18,"y":72},{"t":7.28,"y":30},{"t":7.3,"y":24},{"t":7.33,"y":38},{"t":7.45,"y":77},{"t":7.5,"y":72},{"t":7.57,"y":119},{"t":7.64,"y":244},{"t":7.66,"y":205},{"t":7.67,"y":194},{"t":7.77,"y":152},
{"t":8.8,"y":104},{"t":8.9,"y":98},{"t":9.0,"y":108},{"t":9.1,"y":95},{"t":9.2,"y":100},{"t":9.3,"y":90},{"t":9.4,"y":97},{"t":9.5,"y":92},{"t":9.6,"y":103},{"t":9.7,"y":95},{"t":9.8,"y":90},{"t":9.9,"y":98},{"t":10.0,"y":88},{"t":10.1,"y":95},{"t":10.2,"y":85},{"t":10.3,"y":90},{"t":10.4,"y":80},{"t":10.5,"y":85},{"t":10.6,"y":72},{"t":10.7,"y":78},{"t":10.8,"y":70},{"t":10.9,"y":80},{"t":11.0,"y":75},{"t":11.1,"y":85},{"t":11.2,"y":80},{"t":11.3,"y":88},{"t":11.4,"y":84},{"t":11.5,"y":92},{"t":11.6,"y":88},{"t":11.7,"y":96},{"t":11.8,"y":100},{"t":11.9,"y":105},{"t":12.0,"y":112},{"t":12.1,"y":125},{"t":12.2,"y":118},{"t":12.3,"y":112},{"t":12.4,"y":108},{"t":12.5,"y":104},{"t":13.0,"y":96},{"t":13.1,"y":104},{"t":13.2,"y":97},{"t":13.3,"y":108},{"t":13.4,"y":100},{"t":13.5,"y":112},{"t":13.6,"y":104},{"t":13.7,"y":110},{"t":13.8,"y":100},{"t":13.9,"y":115},{"t":14.0,"y":106},{"t":14.1,"y":98},{"t":14.2,"y":110},{"t":14.3,"y":102},{"t":14.4,"y":112},{"t":14.5,"y":100},{"t":14.6,"y":108},{"t":14.7,"y":95},{"t":14.8,"y":112},{"t":14.9,"y":102},{"t":15.0,"y":108},{"t":15.1,"y":96},{"t":15.2,"y":104},{"t":15.3,"y":92},{"t":15.4,"y":110},{"t":15.5,"y":100},{"t":15.6,"y":112},{"t":15.7,"y":96},{"t":15.8,"y":108},{"t":15.9,"y":92},{"t":16.0,"y":100},{"t":16.1,"y":88},{"t":16.2,"y":98},{"t":16.3,"y":92},{"t":16.4,"y":100},{"t":16.5,"y":90},{"t":16.6,"y":108},{"t":16.7,"y":98},{"t":16.8,"y":110},{"t":16.9,"y":102},{"t":17.0,"y":112},{"t":17.1,"y":100},{"t":17.2,"y":110},{"t":17.3,"y":104},{"t":17.4,"y":115},{"t":17.5,"y":108},{"t":17.6,"y":118},{"t":17.7,"y":110},{"t":17.8,"y":114},{"t":17.9,"y":106},{"t":18.0,"y":116},{"t":18.1,"y":110},{"t":18.2,"y":118},{"t":18.3,"y":108},{"t":18.4,"y":115},{"t":18.5,"y":104},{"t":18.6,"y":112},{"t":18.7,"y":106},{"t":18.8,"y":114},{"t":18.9,"y":100},{"t":19.0,"y":108},{"t":19.1,"y":98},{"t":19.2,"y":110},{"t":19.3,"y":104},{"t":19.4,"y":112},{"t":19.5,"y":100},{"t":19.6,"y":110},{"t":19.7,"y":104},{"t":19.8,"y":116},{"t":19.9,"y":108},{"t":20.0,"y":112},{"t":20.1,"y":100},{"t":20.2,"y":108},{"t":20.3,"y":96},{"t":20.4,"y":106},{"t":20.5,"y":98},{"t":20.6,"y":105},{"t":20.7,"y":95},{"t":20.8,"y":104},{"t":20.9,"y":96},{"t":21.0,"y":102},{"t":21.1,"y":92},{"t":21.2,"y":98},{"t":21.3,"y":88},{"t":21.4,"y":95},{"t":21.5,"y":86},{"t":21.6,"y":96},{"t":21.7,"y":88},{"t":21.8,"y":98},{"t":21.9,"y":90},{"t":22.0,"y":96},{"t":22.1,"y":88},{"t":22.2,"y":95},{"t":22.3,"y":90},{"t":22.4,"y":97},{"t":22.5,"y":86},{"t":22.6,"y":94},{"t":22.7,"y":88},{"t":22.8,"y":95},{"t":22.9,"y":85},{"t":23.0,"y":92},{"t":23.1,"y":86},{"t":23.2,"y":94},{"t":23.3,"y":88},{"t":23.4,"y":92},{"t":23.5,"y":84},{"t":23.6,"y":90},{"t":23.7,"y":86},{"t":23.8,"y":88},{"t":23.9,"y":80},{"t":24.0,"y":85},
{"t":9.05,"y":96},{"t":9.25,"y":104},{"t":9.45,"y":90},{"t":9.65,"y":98},{"t":9.85,"y":96},{"t":10.05,"y":92},{"t":10.25,"y":88},{"t":10.45,"y":84},{"t":10.65,"y":76},{"t":10.85,"y":74},{"t":11.05,"y":80},{"t":11.25,"y":82},{"t":11.45,"y":90},{"t":11.65,"y":94},{"t":11.85,"y":98},{"t":12.05,"y":118},{"t":12.25,"y":122},{"t":12.45,"y":100},{"t":13.05,"y":100},{"t":13.25,"y":102},{"t":13.45,"y":106},{"t":13.65,"y":98},{"t":13.85,"y":108},{"t":14.05,"y":112},{"t":14.25,"y":100},{"t":14.45,"y":106},{"t":14.65,"y":112},{"t":14.85,"y":98},{"t":15.05,"y":104},{"t":15.25,"y":110},{"t":15.45,"y":98},{"t":15.65,"y":104},{"t":15.85,"y":100},{"t":16.05,"y":96},{"t":16.25,"y":104},{"t":16.45,"y":96},{"t":16.65,"y":102},{"t":16.85,"y":106},{"t":17.05,"y":104},{"t":17.25,"y":116},{"t":17.45,"y":110},{"t":17.65,"y":112},{"t":17.85,"y":118},{"t":18.05,"y":110},{"t":18.25,"y":112},{"t":18.45,"y":110},{"t":18.65,"y":116},{"t":18.85,"y":108},{"t":19.05,"y":104},{"t":19.25,"y":106},{"t":19.45,"y":108},{"t":19.65,"y":112},{"t":19.85,"y":110},{"t":20.05,"y":104},{"t":20.25,"y":102},{"t":20.45,"y":100},{"t":20.65,"y":100},{"t":20.85,"y":98},{"t":21.05,"y":96},{"t":21.25,"y":94},{"t":21.45,"y":90},{"t":21.65,"y":92},{"t":21.85,"y":94},{"t":22.05,"y":92},{"t":22.25,"y":90},{"t":22.45,"y":92},{"t":22.65,"y":90},{"t":22.85,"y":92},{"t":23.05,"y":88},{"t":23.25,"y":90},{"t":23.45,"y":88},{"t":23.65,"y":86},{"t":23.85,"y":84},
{"t":8.8,"y":134},{"t":8.78,"y":119},{"t":9.37,"y":119},{"t":9.9,"y":110.6},{"t":10.64,"y":66},{"t":11.99,"y":161.7},{"t":12.0,"y":155},{"t":12.01,"y":148},{"t":11.95,"y":132.8},{"t":12.15,"y":130},{"t":12.3,"y":100},{"t":12.35,"y":92},{"t":13.82,"y":117},{"t":14.25,"y":115},{"t":14.67,"y":117},{"t":15.45,"y":127},{"t":15.52,"y":119},{"t":15.87,"y":119},{"t":15.98,"y":77},{"t":15.66,"y":85.6},{"t":16.55,"y":139},{"t":16.56,"y":130},{"t":16.57,"y":124},{"t":16.6,"y":85.6},{"t":17.04,"y":88},{"t":17.25,"y":124},{"t":17.29,"y":94},{"t":18.99,"y":94},{"t":19.73,"y":94},{"t":19.8,"y":124},{"t":20.08,"y":91},{"t":20.29,"y":91},{"t":21.11,"y":113},{"t":21.28,"y":119},{"t":21.85,"y":119},{"t":21.87,"y":110},{"t":22.06,"y":113},{"t":22.24,"y":139.4},{"t":22.63,"y":126},{"t":22.88,"y":132.8},{"t":22.95,"y":116},{"t":23.16,"y":106},{"t":23.51,"y":105},{"t":23.69,"y":119},{"t":23.65,"y":74.4},{"t":23.86,"y":71.7},{"t":23.94,"y":66},{"t":23.97,"y":113},{"t":23.99,"y":100}],
"Ug":[{"t":0,"y":69},{"t":0.25,"y":69},{"t":0.46,"y":66},{"t":0.67,"y":63},{"t":0.95,"y":60.5},{"t":1.17,"y":60.5},{"t":1.38,"y":60.5},{"t":1.66,"y":58},{"t":1.94,"y":60.5},{"t":2.23,"y":60.5},{"t":2.44,"y":63},{"t":2.58,"y":85.6},{"t":2.72,"y":74.4},{"t":2.86,"y":66},{"t":3.08,"y":60.5},{"t":3.29,"y":63},{"t":3.5,"y":66},{"t":3.71,"y":60.5},{"t":3.85,"y":44},{"t":4.07,"y":52},{"t":4.16,"y":77},{"t":4.28,"y":60.5},{"t":4.38,"y":44},{"t":4.56,"y":58},{"t":4.74,"y":69},{"t":4.92,"y":74.4},{"t":5.06,"y":55},{"t":5.2,"y":58},{"t":5.34,"y":66},{"t":5.48,"y":85.6},{"t":5.62,"y":88.3},{"t":5.76,"y":80},{"t":5.91,"y":69},{"t":6.05,"y":77},{"t":6.19,"y":71.7},{"t":6.33,"y":74.4},{"t":6.54,"y":63},{"t":6.75,"y":60.5},{"t":7.04,"y":57.8},{"t":7.18,"y":55},{"t":7.39,"y":52.2},{"t":7.53,"y":46.7},{"t":7.64,"y":99},{"t":7.74,"y":160.6},{"t":7.87,"y":196.7},{"t":7.95,"y":155},{"t":8.06,"y":121.7},{"t":8.17,"y":127},{"t":8.27,"y":130},{"t":8.38,"y":121.7},{"t":8.59,"y":113.3},{"t":8.8,"y":105},{"t":9.02,"y":99.4},{"t":9.23,"y":96.7},{"t":9.44,"y":93.9},{"t":9.65,"y":99.4},{"t":9.86,"y":93.9},{"t":10.08,"y":91.1},{"t":10.29,"y":85.6},{"t":10.5,"y":80},{"t":10.71,"y":72.8},{"t":10.92,"y":77},{"t":11.14,"y":82.8},{"t":11.35,"y":85.6},{"t":11.56,"y":91},{"t":11.77,"y":99.4},{"t":11.99,"y":110.6},{"t":12.13,"y":124.4},{"t":12.23,"y":127},{"t":12.34,"y":116},{"t":12.48,"y":107.8},{"t":12.69,"y":99.4},{"t":12.9,"y":96.7},{"t":13.12,"y":99.4},{"t":13.33,"y":105},{"t":13.54,"y":107.8},{"t":13.75,"y":107.8},{"t":13.97,"y":110.6},{"t":14.18,"y":105},{"t":14.39,"y":107.8},{"t":14.6,"y":105},{"t":14.81,"y":107.8},{"t":15.03,"y":105},{"t":15.24,"y":102},{"t":15.52,"y":110.6},{"t":15.73,"y":105},{"t":15.95,"y":102},{"t":16.16,"y":93.9},{"t":16.44,"y":96.7},{"t":16.72,"y":105},{"t":17.01,"y":107.8},{"t":17.29,"y":110.6},{"t":17.57,"y":113.3},{"t":17.85,"y":111.7},{"t":18.14,"y":113.3},{"t":18.42,"y":113.3},{"t":18.7,"y":110.6},{"t":18.99,"y":105},{"t":19.27,"y":107.8},{"t":19.55,"y":107.8},{"t":19.83,"y":113.3},{"t":20.12,"y":106},{"t":20.4,"y":102},{"t":20.68,"y":102},{"t":20.97,"y":100},{"t":21.25,"y":93.9},{"t":21.53,"y":91},{"t":21.81,"y":93.9},{"t":22.1,"y":92.8},{"t":22.38,"y":92.8},{"t":22.66,"y":91},{"t":22.95,"y":89.4},{"t":23.23,"y":91},{"t":23.51,"y":89.4},{"t":23.79,"y":85.6},{"t":24.0,"y":83.9}],
"Uo":[{"t":4.17,"y":28},{"t":4.19,"y":40},{"t":4.2,"y":55},{"t":4.22,"y":32},{"t":4.24,"y":62},{"t":4.25,"y":45},{"t":4.27,"y":25},{"t":4.29,"y":50},{"t":4.3,"y":38},{"t":4.32,"y":58},{"t":4.33,"y":30},{"t":4.35,"y":97.8},{"t":4.36,"y":42},{"t":4.38,"y":52},{"t":4.4,"y":28},{"t":4.42,"y":48},{"t":4.44,"y":35},{"t":4.46,"y":56},{"t":4.48,"y":40},{"t":4.5,"y":30},{"t":4.52,"y":55},{"t":4.54,"y":45},{"t":4.56,"y":50},{"t":4.45,"y":25},{"t":7.74,"y":171.7},{"t":7.76,"y":169},{"t":8.06,"y":174.4},{"t":7.92,"y":152},{"t":8.02,"y":149},{"t":7.78,"y":135},{"t":7.82,"y":128},{"t":7.86,"y":124},{"t":7.9,"y":132},{"t":7.95,"y":126},{"t":7.99,"y":130},{"t":7.84,"y":116},{"t":7.88,"y":116},{"t":7.81,"y":102},{"t":8.1,"y":116},{"t":8.17,"y":99.4},{"t":8.24,"y":141},{"t":8.25,"y":133},{"t":8.27,"y":155},{"t":8.3,"y":116},{"t":8.33,"y":105},{"t":8.36,"y":98},{"t":8.4,"y":110},{"t":8.43,"y":92},{"t":8.46,"y":102},{"t":8.5,"y":108},{"t":8.53,"y":96},{"t":8.56,"y":112},{"t":8.59,"y":146.7},{"t":8.62,"y":100},{"t":8.66,"y":94},{"t":8.7,"y":104},{"t":8.74,"y":98},{"t":8.78,"y":106},{"t":8.82,"y":100},{"t":8.86,"y":96},{"t":8.05,"y":120},{"t":8.12,"y":138},{"t":12.6,"y":102},{"t":12.63,"y":98},{"t":12.66,"y":104},{"t":12.68,"y":95},{"t":12.7,"y":100},{"t":12.73,"y":93},{"t":12.75,"y":97},{"t":12.78,"y":92},{"t":12.8,"y":96},{"t":12.83,"y":91},{"t":12.86,"y":94},{"t":12.9,"y":92}]
},
"vconcat":[
{"width":1223,"height":166,
 "encoding":{"y":{"field":"y","type":"quantitative","scale":{"domain":[19.923,22.174],"nice":false,"zero":false},"axis":{"title":"Temp","values":[20,20.5,21,21.5,22],"format":".1f","labelAngle":270,"labelAlign":"center","labelBaseline":"bottom"}}},
 "layer":[
  {"data":{"name":"Tp"},"mark":{"type":"point","shape":"square","filled":true,"color":"#000000","size":10,"opacity":1},
   "encoding":{"x":{"field":"t","type":"quantitative","scale":{"domain":[-0.97,24.96],"nice":false,"zero":false},"axis":{"orient":"bottom","values":[6,12,18],"labelExpr":"datum.value + ':00'","tickSize":3,"offset":2,"labelPadding":9,"labelFlush":false,"title":"21 Jun 2008","titleX":1,"titleY":59,"titleAlign":"left","titleBaseline":"alphabetic"}}}},
  {"data":{"name":"Tg"},"mark":{"type":"line","color":"#33cc33","strokeDash":[4,4],"strokeWidth":1},
   "encoding":{"x":{"field":"t","type":"quantitative","scale":{"domain":[-0.97,24.96],"nice":false,"zero":false},"axis":{"orient":"bottom","values":[0,24],"tickSize":7,"offset":2,"labels":false,"title":"23 Jun 2008","titleX":1223,"titleY":59,"titleAlign":"right","titleBaseline":"alphabetic"}}}},
  {"data":{"name":"To"},"mark":{"type":"point","shape":"M-1,-1L1,1M-1,1L1,-1","filled":false,"color":"#ffa500","strokeWidth":1.2,"size":36,"opacity":1},
   "encoding":{"x":{"field":"t","type":"quantitative","scale":{"domain":[-0.97,24.96],"nice":false,"zero":false},"axis":null}}}
 ],
 "resolve":{"axis":{"x":"independent"}}
},
{"width":1223,"height":166,
 "encoding":{"y":{"field":"y","type":"quantitative","scale":{"domain":[4.986,8.929],"nice":false,"zero":false},"axis":{"title":"pH","values":[5,6,7,8],"format":"d","labelAngle":270,"labelAlign":"center","labelBaseline":"bottom"}}},
 "layer":[
  {"data":{"name":"Pp"},"mark":{"type":"point","shape":"square","filled":true,"color":"#000000","size":10,"opacity":1},
   "encoding":{"x":{"field":"t","type":"quantitative","scale":{"domain":[-0.97,24.96],"nice":false,"zero":false},"axis":{"orient":"bottom","values":[6,12,18],"labelExpr":"datum.value + ':00'","tickSize":3,"offset":2,"labelPadding":9,"labelFlush":false,"title":"21 Jun 2008","titleX":1,"titleY":59,"titleAlign":"left","titleBaseline":"alphabetic"}}}},
  {"data":{"name":"Pg"},"mark":{"type":"line","color":"#33cc33","strokeDash":[4,4],"strokeWidth":1},
   "encoding":{"x":{"field":"t","type":"quantitative","scale":{"domain":[-0.97,24.96],"nice":false,"zero":false},"axis":{"orient":"bottom","values":[0,24],"tickSize":7,"offset":2,"labels":false,"title":"23 Jun 2008","titleX":1223,"titleY":59,"titleAlign":"right","titleBaseline":"alphabetic"}}}},
  {"data":{"name":"Po"},"mark":{"type":"point","shape":"M-1,-1L1,1M-1,1L1,-1","filled":false,"color":"#ffa500","strokeWidth":1.2,"size":36,"opacity":1},
   "encoding":{"x":{"field":"t","type":"quantitative","scale":{"domain":[-0.97,24.96],"nice":false,"zero":false},"axis":null}}}
 ],
 "resolve":{"axis":{"x":"independent"}}
},
{"width":1223,"height":166,
 "encoding":{"y":{"field":"y","type":"quantitative","scale":{"domain":[-0.47,20.73],"nice":false,"zero":false},"axis":{"title":"EC","values":[0,5,10,15,20],"format":"d","labelAngle":270,"labelAlign":"center","labelBaseline":"bottom"}}},
 "layer":[
  {"data":{"name":"Ep"},"mark":{"type":"point","shape":"square","filled":true,"color":"#000000","size":10,"opacity":1},
   "encoding":{"x":{"field":"t","type":"quantitative","scale":{"domain":[-0.97,24.96],"nice":false,"zero":false},"axis":{"orient":"bottom","values":[6,12,18],"labelExpr":"datum.value + ':00'","tickSize":3,"offset":2,"labelPadding":9,"labelFlush":false,"title":"21 Jun 2008","titleX":1,"titleY":59,"titleAlign":"left","titleBaseline":"alphabetic"}}}},
  {"data":{"name":"Eg"},"mark":{"type":"line","color":"#33cc33","strokeDash":[4,4],"strokeWidth":1},
   "encoding":{"x":{"field":"t","type":"quantitative","scale":{"domain":[-0.97,24.96],"nice":false,"zero":false},"axis":{"orient":"bottom","values":[0,24],"tickSize":7,"offset":2,"labels":false,"title":"23 Jun 2008","titleX":1223,"titleY":59,"titleAlign":"right","titleBaseline":"alphabetic"}}}},
  {"data":{"name":"Eo"},"mark":{"type":"point","shape":"M-1,-1L1,1M-1,1L1,-1","filled":false,"color":"#ffa500","strokeWidth":1.2,"size":36,"opacity":1},
   "encoding":{"x":{"field":"t","type":"quantitative","scale":{"domain":[-0.97,24.96],"nice":false,"zero":false},"axis":null}}},
  {"data":{"name":"Ec"},"mark":{"type":"point","shape":"M-1,0L1,0M0,-1L0,1","filled":false,"color":"#ffa500","strokeWidth":1.2,"size":36,"opacity":1},
   "encoding":{"x":{"field":"t","type":"quantitative","scale":{"domain":[-0.97,24.96],"nice":false,"zero":false},"axis":null}}},
  {"data":{"name":"Ec"},"mark":{"type":"point","shape":"circle","filled":false,"color":"#ff0000","strokeWidth":1,"size":160,"opacity":1},
   "encoding":{"x":{"field":"t","type":"quantitative","scale":{"domain":[-0.97,24.96],"nice":false,"zero":false},"axis":null}}}
 ],
 "resolve":{"axis":{"x":"independent"}}
},
{"width":1223,"height":166,
 "encoding":{"y":{"field":"y","type":"quantitative","scale":{"domain":[-15.5,260],"nice":false,"zero":false},"axis":{"title":"Turb","values":[0,50,100,150,200,250],"format":"d","labelAngle":270,"labelAlign":"center","labelBaseline":"bottom"}}},
 "layer":[
  {"data":{"name":"Up"},"mark":{"type":"point","shape":"square","filled":true,"color":"#000000","size":10,"opacity":1},
   "encoding":{"x":{"field":"t","type":"quantitative","scale":{"domain":[-0.97,24.96],"nice":false,"zero":false},"axis":{"orient":"bottom","values":[6,12,18],"labelExpr":"datum.value + ':00'","tickSize":3,"offset":2,"labelPadding":9,"labelFlush":false,"title":"21 Jun 2008","titleX":1,"titleY":59,"titleAlign":"left","titleBaseline":"alphabetic"}}}},
  {"data":{"name":"Ug"},"mark":{"type":"line","color":"#33cc33","strokeDash":[4,4],"strokeWidth":1},
   "encoding":{"x":{"field":"t","type":"quantitative","scale":{"domain":[-0.97,24.96],"nice":false,"zero":false},"axis":{"orient":"bottom","values":[0,24],"tickSize":7,"offset":2,"labels":false,"title":"23 Jun 2008","titleX":1223,"titleY":59,"titleAlign":"right","titleBaseline":"alphabetic"}}}},
  {"data":{"name":"Uo"},"mark":{"type":"point","shape":"M-1,-1L1,1M-1,1L1,-1","filled":false,"color":"#ffa500","strokeWidth":1.2,"size":36,"opacity":1},
   "encoding":{"x":{"field":"t","type":"quantitative","scale":{"domain":[-0.97,24.96],"nice":false,"zero":false},"axis":{"orient":"bottom","values":[],"ticks":false,"labels":false,"offset":2,"title":"SentinelOne-JUNE2008.Rdata","titleX":612,"titleY":59,"titleAlign":"center","titleBaseline":"alphabetic"}}}}
 ],
 "resolve":{"axis":{"x":"independent"}}
}
],
"config":{
 "view":{"stroke":"#ff0000","strokeWidth":3},
 "axis":{"grid":false,"domain":false,"tickColor":"#000000","tickWidth":1,"labelColor":"#000000","labelFont":"Liberation Sans","labelFontSize":11,"titleFont":"Liberation Sans","titleFontSize":11,"titleFontWeight":"normal","titleColor":"#000000"},
 "axisY":{"labelPadding":4,"tickSize":5,"titlePadding":14}
}
}
